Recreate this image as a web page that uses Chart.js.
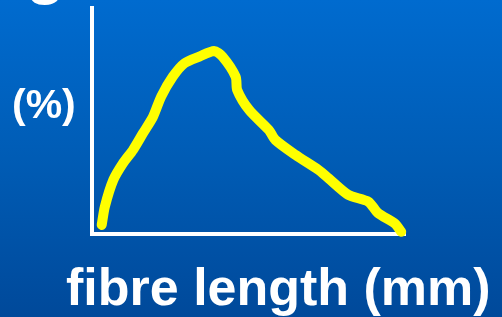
<!DOCTYPE html>
<html>
<head>
<meta charset="utf-8">
<script src="https://cdn.jsdelivr.net/npm/chart.js@4/dist/chart.umd.min.js"></script>
<style>
  html, body { margin: 0; padding: 0; }
  body {
    width: 502px;
    height: 317px;
    overflow: hidden;
    background: linear-gradient(to bottom, #006bcf 0%, #005cb5 50%, #00499a 100%);
  }
  canvas { display: block; }
</style>
</head>
<body>
<canvas id="fibreChart" width="502" height="317"></canvas>
<script>
//data section (axis runs 0-100 both ways, no ticks shown)
const fibreLength = [3.1, 4.1, 6.8, 9.9, 13.1, 16.3, 19.5, 22.1, 25.8, 29.5, 34.3, 39.0, 41.7, 45.9, 46.4, 50.2, 56.5, 58.6, 65.0, 72.4, 75.6, 81.9, 88.3, 91.4, 96.7, 98.8];
const percentShare = [4.0, 12.1, 23.9, 31.3, 37.2, 44.6, 51.9, 60.8, 69.6, 75.5, 78.5, 81.0, 78.5, 69.6, 63.7, 54.9, 46.0, 41.6, 35.0, 28.3, 24.6, 17.3, 14.3, 9.2, 4.7, 1.0];

//labels
const yLabel = '(%)';
const xLabel = 'fibre length (mm)';
const titleTail = 'g';

//text drawn straight on the canvas, like the slide
const slideText = {
    id: 'slideText',
    afterDraw(chart) {
        const ctx = chart.ctx;
        ctx.save();
        ctx.fillStyle = '#ffffff';
        ctx.textBaseline = 'alphabetic';
        ctx.textAlign = 'left';
        ctx.font = 'bold 41px "Liberation Sans", Arial, sans-serif';
        ctx.fillText(yLabel, 12, 118);
        ctx.font = 'bold 52px "Liberation Sans", Arial, sans-serif';
        ctx.fillText(xLabel, 66, 305);
        ctx.font = 'bold 64px "Liberation Sans", Arial, sans-serif';
        ctx.fillText(titleTail, 26, -8);
        ctx.restore();
    }
};

const fibreGraph = () => {
    var ctx = document.getElementById('fibreChart').getContext('2d');
    var chart = new Chart(ctx, {
        type: 'line',
        data: {
            datasets: [{
                label: 'fibre length distribution',
                data: fibreLength.map((x, i) => ({ x: x, y: percentShare[i] })),
                borderColor: '#ffff00',
                borderWidth: 10,
                borderCapStyle: 'round',
                borderJoinStyle: 'round',
                pointRadius: 0,
                tension: 0.25,
                fill: false,
                clip: false
            }]
        },
        options: {
            responsive: false,
            animation: false,
            layout: {
                padding: { left: 92, right: 97, top: 8, bottom: 83 }
            },
            plugins: {
                legend: { display: false },
                tooltip: { enabled: false }
            },
            scales: {
                x: {
                    type: 'linear',
                    min: 0,
                    max: 100,
                    grid: { display: false },
                    ticks: { display: false },
                    border: { display: true, color: '#ffffff', width: 4 },
                    afterFit: (s) => { s.height = 0; }
                },
                y: {
                    min: 0,
                    max: 100,
                    grid: { display: false },
                    ticks: { display: false },
                    border: { display: true, color: '#ffffff', width: 4 },
                    afterFit: (s) => { s.width = 0; }
                }
            }
        },
        plugins: [slideText]
    });
}
fibreGraph()
</script>
</body>
</html>
